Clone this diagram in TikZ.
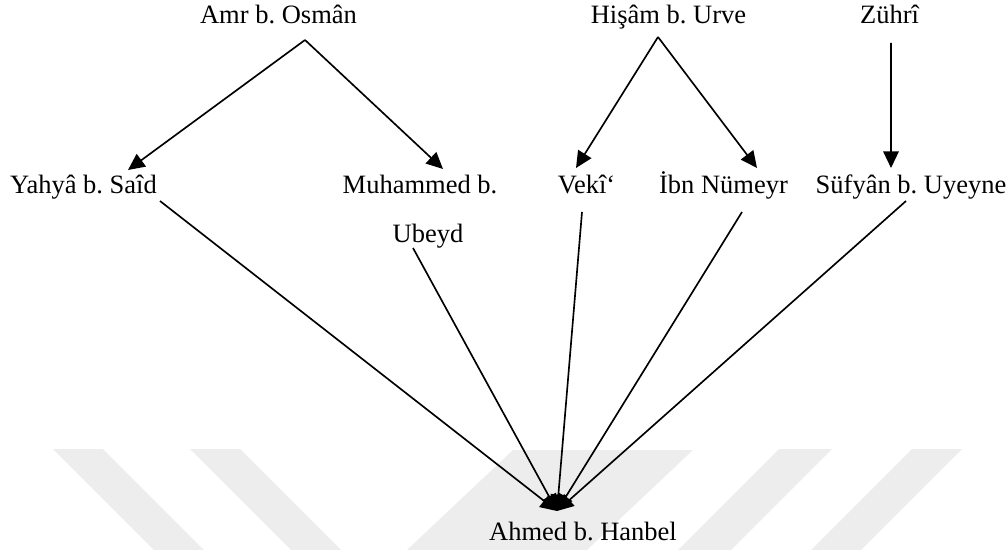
\documentclass[tikz,border=0pt]{standalone}
\usepackage{fontspec}
\setmainfont{Liberation Serif}
\usetikzlibrary{arrows.meta}
\frenchspacing
\begin{document}
\begin{tikzpicture}[x=0.4528pt,y=-0.4528pt,
  person/.style={inner sep=0pt,anchor=base,font=\fontsize{12}{14}\selectfont},
  link/.style={line width=0.75pt,-{Triangle[length=7.5pt,width=7pt]}},
  wm/.style={fill=black!7,draw=none}]
\useasboundingbox (0,0) rectangle (1008,550);
% watermark stripes
\fill[wm] (53,449) -- (103,449) -- (204,550) -- (154,550) -- cycle;
\fill[wm] (190,449) -- (240,449) -- (341,550) -- (291,550) -- cycle;
\fill[wm] (513,450) -- (693,450) -- (587,550) -- (407,550) -- cycle;
\fill[wm] (779,449) -- (832,449) -- (731,550) -- (678,550) -- cycle;
\fill[wm] (912,449) -- (962,449) -- (861,550) -- (811,550) -- cycle;
% names
\node[person] (amr) at (278.5,24) {Amr b. Osmân};
\node[person] (hisam) at (668.5,24) {Hişâm b. Urve};
\node[person] (zuhri) at (889.5,24) {Zührî};
\node[person] (yahya) at (83.5,194) {Yahyâ b. Saîd};
\node[person] (muh) at (420,194) {Muhammed b.};
\node[person] (ubeyd) at (428,242) {Ubeyd};
\node[person] (veki) at (586.5,194) {Vekî‘};
\node[person] (ibn) at (723.5,194) {İbn Nümeyr};
\node[person] (sufyan) at (911,194) {Süfyân b. Uyeyne};
\node[person] (ahmed) at (583,540) {Ahmed b. Hanbel};
% connectors
\draw[link] ([shift={(26.5,16)}]amr.base) -- ([shift={(44.5,-24)}]yahya.base);
\draw[link] ([shift={(26.5,16)}]amr.base) -- ([shift={(23,-25)}]muh.base);
\draw[link] ([shift={(-10.5,13)}]hisam.base) -- ([shift={(-10.5,-26)}]veki.base);
\draw[link] ([shift={(-10.5,13)}]hisam.base) -- ([shift={(33.5,-26)}]ibn.base);
\draw[link] ([shift={(1.5,19)}]zuhri.base) -- ([shift={(-20,-26)}]sufyan.base);
\draw[link] ([shift={(76.5,7)}]yahya.base) -- ([shift={(-26,-29)}]ahmed.base);
\draw[link] ([shift={(-15,6)}]ubeyd.base) -- ([shift={(-26,-29)}]ahmed.base);
\draw[link] ([shift={(-4.5,18)}]veki.base) -- ([shift={(-26,-29)}]ahmed.base);
\draw[link] ([shift={(18.5,18)}]ibn.base) -- ([shift={(-26,-29)}]ahmed.base);
\draw[link] ([shift={(-5,7)}]sufyan.base) -- ([shift={(-26,-29)}]ahmed.base);
\end{tikzpicture}
\end{document}
